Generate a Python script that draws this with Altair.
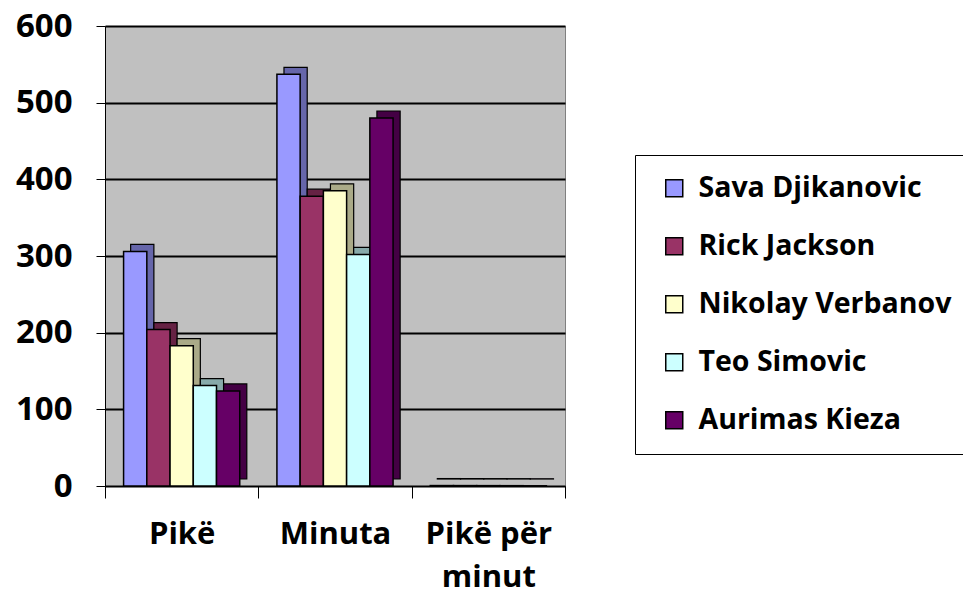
import altair as alt
import pandas as pd

categories = ["Pikë", "Minuta", "Pikë për minut"]
players = ["Sava Djikanovic", "Rick Jackson", "Nikolay Verbanov", "Teo Simovic", "Aurimas Kieza"]
colors = ["#9999ff", "#993366", "#ffffcc", "#ccffff", "#660066"]
side_colors = ["#6666aa", "#662244", "#aaaa88", "#88aaaa", "#440044"]
values = {
    "Sava Djikanovic": [306, 537, 0.57],
    "Rick Jackson": [204, 378, 0.54],
    "Nikolay Verbanov": [183, 385, 0.48],
    "Teo Simovic": [131, 302, 0.43],
    "Aurimas Kieza": [124, 480, 0.26],
}

rows = []
for p in players:
    for c, v in zip(categories, values[p]):
        rows.append({"cat": c, "player": p, "value": v})
df = pd.DataFrame(rows)

FONT = "Open Sans"

x_enc = alt.X("cat:N", sort=categories, title=None,
              scale=alt.Scale(paddingInner=0, paddingOuter=0),
              axis=alt.Axis(labelAngle=0, labelFont=FONT, labelFontSize=31, labelFontWeight="bold",
                            labelColor="black", labelPadding=21, domainColor="black", tickColor="black",
                            ticks=True, tickSize=12, tickBand="extent",
                            labelExpr="datum.label == 'Pikë për minut' ? ['Pikë për', 'minut'] : datum.label",
                            labelLineHeight=43))
y_enc = alt.Y("value:Q", title=None, scale=alt.Scale(domain=[0, 600]),
              axis=alt.Axis(values=[0, 100, 200, 300, 400, 500, 600], labelFont=FONT, labelFontSize=33,
                            labelFontWeight="bold", labelColor="black", labelPadding=24,
                            gridColor="black", gridWidth=2, domainColor="black", tickColor="black",
                            tickSize=9))

depth = alt.Chart(df).mark_bar(stroke="black", strokeWidth=1.2, yOffset=-7, y2Offset=-7).encode(
    x=x_enc,
    xOffset=alt.XOffset("player:N", sort=players,
                        scale=alt.Scale(paddingInner=0, paddingOuter=0.8, align=0.69)),
    y=y_enc,
    fill=alt.Fill("player:N", sort=players, scale=alt.Scale(domain=players, range=side_colors),
                  legend=None),
)

front = alt.Chart(df).mark_bar(stroke="black", strokeWidth=1.5).encode(
    x=x_enc,
    xOffset=alt.XOffset("player:N", sort=players,
                        scale=alt.Scale(paddingInner=0, paddingOuter=0.8, align=0.5)),
    y=y_enc,
    color=alt.Color("player:N", sort=players, scale=alt.Scale(domain=players, range=colors),
                    legend=alt.Legend(title=None, orient="none", legendX=530, legendY=129,
                                      labelFont=FONT, labelFontSize=28.5, labelFontWeight="bold",
                                      labelColor="black", labelLimit=0, symbolType="square",
                                      symbolSize=289, symbolStrokeColor="black", symbolStrokeWidth=1.5,
                                      rowPadding=29, strokeColor="black", padding=19,
                                      symbolOffset=6, labelOffset=10)),
)

chart = alt.layer(depth, front).resolve_scale(
    color="independent", fill="independent", xOffset="independent"
).properties(
    width=460, height=460,
    autosize=alt.AutoSizeParams(type="none"),
    padding={"left": 97, "top": 18, "right": 398, "bottom": 110},
    background="white",
).configure_view(fill="#c0c0c0", stroke="#808080", strokeWidth=1)

chart.save("out.html", embed_options={"renderer": "svg", "actions": False})
